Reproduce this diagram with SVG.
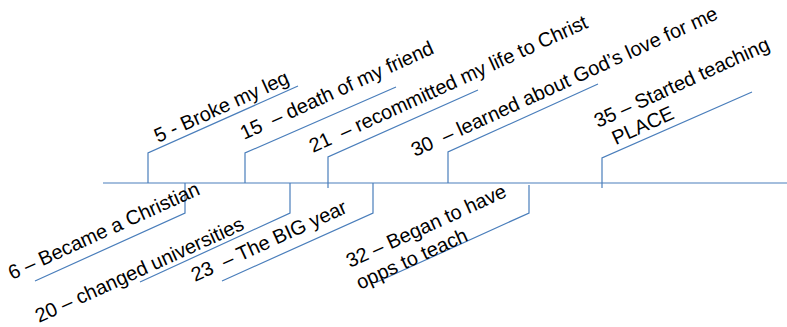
<svg xmlns="http://www.w3.org/2000/svg" width="787" height="327" viewBox="0 0 787 327">
<style>
text{font-family:"Liberation Sans",Arial,sans-serif;font-size:20px;fill:#000;white-space:pre}
.ln{fill:none;stroke:#4a7ebb;stroke-width:1.2}
</style>
<rect width="787" height="327" fill="#fff"/>
<g id="connectors">
<line class="ln" x1="103" y1="183" x2="787" y2="183"/>
<polyline class="ln" points="148,183 148,153 298,86"/>
<polyline class="ln" points="245,183 245,153 396,87"/>
<polyline class="ln" points="328,188 328,157 478,90"/>
<polyline class="ln" points="448,183 448,152 598,84"/>
<polyline class="ln" points="602,188 602,158 752,92"/>
<polyline class="ln" points="185,183 185,213 35,281"/>
<polyline class="ln" points="290,183 290,213 140,282"/>
<polyline class="ln" points="373,183 373,213 222,281"/>
<polyline class="ln" points="529,185 529,213 377,282"/>
</g>
<g id="n5"><text transform="translate(158,143) rotate(-24.5)">5 - Broke my leg</text></g>
<g id="n15"><text transform="translate(244,140) rotate(-24.5)">15  – death of my friend</text></g>
<g id="n21"><text transform="translate(313,153) rotate(-24.5)">21  – recommitted my life to Christ</text></g>
<g id="n30"><text transform="translate(415,157) rotate(-24.5)">30  – learned about God’s love for me</text></g>
<g id="n35"><text transform="translate(598,128) rotate(-24.5)"><tspan x="0" y="0">35 – Started teaching</tspan><tspan x="9" y="23">PLACE</tspan></text></g>
<g id="n6"><text transform="translate(12,280) rotate(-24.5)">6 – Became a Christian</text></g>
<g id="n20"><text transform="translate(39,323) rotate(-24.5)">20 – changed universities</text></g>
<g id="n23"><text transform="translate(195,282) rotate(-24.5)">23  – The BIG year</text></g>
<g id="n32"><text transform="translate(350,268) rotate(-24.5)"><tspan x="0" y="0">32 – Began to have</tspan><tspan x="0" y="24">opps to teach</tspan></text></g>
</svg>
